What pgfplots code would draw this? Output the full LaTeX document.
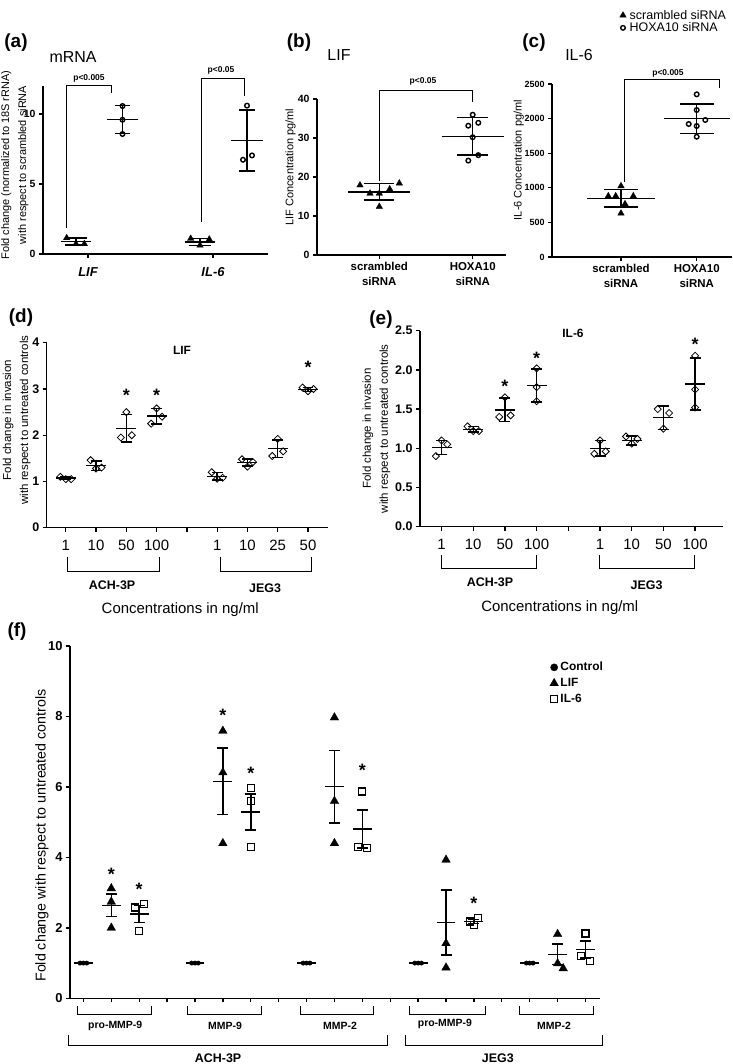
\documentclass[border=0pt]{standalone}
\usepackage{fontspec}
\setmainfont{Liberation Sans}
\usepackage{pgfplots}
\usepackage{pgfplotstable}
\pgfplotsset{compat=1.18}
\pgfplotsset{
  myax/.style={scale only axis, axis lines=left, axis line style={-, line width=1.3pt},
    tick style={black, line width=1.3pt}, tick align=outside, major tick length=4pt,
    clip=false, /pgf/number format/assume math mode=true, /pgf/number format/1000 sep={},
    scaled ticks=false, anchor=south west, minor tick num=0},
  legimg/.style={legend image code/.code={\draw[mark repeat=2,mark phase=2,##1] plot coordinates {(0cm,0cm) (0.14cm,0cm) (0.28cm,0cm)};}},
  scr/.style={only marks, mark=triangle*, mark size=3.8pt, mark options={black, fill=black, line width=0.3pt}, legimg},
  hox/.style={only marks, mark=o, mark size=2.3pt, mark options={black, line width=1.4pt}, legimg},
  dia/.style={only marks, mark=square, mark size=2.5pt, mark options={rotate=45, black, line width=0.8pt}},
  ctrl/.style={only marks, mark=*, mark size=2pt, mark options={black, fill=black}, legimg},
  lif/.style={only marks, mark=triangle*, mark size=5pt, mark options={black, fill=black, line width=0.3pt}, legimg},
  il/.style={only marks, mark=square, mark size=3.5pt, mark options={black, fill=white, line width=1.2pt}, legimg},
}
\tikzset{
  pval/.style={font=\bfseries\fontsize{8.5}{9}\selectfont, inner sep=0pt},
  star/.style={font=\bfseries\fontsize{18}{18}\selectfont, inner sep=0pt, anchor=center, yshift=-3.8pt},
  br/.style={line width=1.0pt},
}
\newcommand{\summ}[3]{\addplot[black, only marks, mark=-, mark size=#2pt, mark options={line width=1.5pt}, forget plot,
  error bars/.cd, y dir=both, y explicit, error bar style={line width=1.5pt, black},
  error mark options={rotate=90, line width=1.5pt, mark size=#3pt, black}] table[x=x, y=m, y error=e] {#1};}

\begin{document}
% ---------- (a)
\pgfplotstableread{
x y
66.7 1.15
76 0.72
84.3 0.72
190.7 1.10
200 0.62
209.3 1.05
}\aScr
\pgfplotstableread{
x y
122.5 10.57
122.5 9.59
122.5 8.57
247 10.6
243 6.73
252 7.04
}\aHox
\pgfplotstableread{
x m e
76 0.90 0.25
200 0.85 0.25
}\aScrS
\pgfplotstableread{
x m e
122.5 9.60 1.00
247 8.12 2.18
}\aHoxS
% ---------- (b)
\pgfplotstableread{
x y
360 17.9
370 15.8
379.3 15.8
389.7 16.9
399.3 18.4
379.3 12.4
}\bScr
\pgfplotstableread{
x y
472.7 35.97
468.3 33.15
478.3 33.9
472.7 30.2
478.3 25.6
468.3 24.2
}\bHox
\pgfplotstableread{
x m e
379.3 16.2 2.15
}\bScrS
\pgfplotstableread{
x m e
472.7 30.4 4.8
}\bHoxS
% ---------- (c)
\pgfplotstableread{
x y
621 1026
608.3 881
615.7 881
633.3 881
625 766
621 631
}\cScr
\pgfplotstableread{
x y
696.7 2351
696.7 2124
688.7 1922
705.3 1980
696.7 1893
696.7 1738
}\cHox
\pgfplotstableread{
x m e
621 848 128
}\cScrS
\pgfplotstableread{
x m e
696.7 2000 212
}\cHoxS
% ---------- (d)
\pgfplotstableread{
x y
-0.18 1.10
0 1.05
0.18 1.05
0.82 1.46
1 1.28
1.18 1.30
2 2.50
1.82 1.95
2.18 2.00
3 2.58
2.82 2.25
3.18 2.40
4.82 1.20
5 1.06
5.18 1.08
5.82 1.48
6 1.32
6.18 1.42
7 1.92
6.82 1.55
7.18 1.65
7.82 3.03
8 2.95
8.18 3.00
}\dPts
\pgfplotstableread{
x m e
0 1.07 0.03
1 1.34 0.10
2 2.15 0.30
3 2.41 0.17
5 1.11 0.08
6 1.41 0.08
7 1.71 0.19
8 2.99 0.04
}\dSum
% ---------- (e)
\pgfplotstableread{
x y
0 1.10
0.18 1.05
-0.18 0.90
0.82 1.28
1 1.22
1.18 1.22
2 1.65
1.82 1.40
2.18 1.42
3 2.02
3 1.78
3 1.60
5 1.10
4.82 0.93
5.18 0.96
5.82 1.15
6.18 1.12
6 1.06
6.82 1.50
7.18 1.45
7 1.25
8 2.18
8 1.75
8 1.52
}\ePts
\pgfplotstableread{
x m e
0 1.01 0.09
1 1.24 0.035
2 1.49 0.15
3 1.80 0.21
5 1.00 0.10
6 1.10 0.06
7 1.39 0.15
8 1.82 0.33
}\eSum
% ---------- (f)
\pgfplotstableread{
x y
-0.12 1
0 1
0.12 1
3.88 1
4 1
4.12 1
7.88 1
8 1
8.12 1
11.88 1
12 1
12.12 1
15.88 1
16 1
16.12 1
}\fCtrl
\pgfplotstableread{
x y
1 3.12
1 2.74
1 2.00
5 7.59
5 6.41
5 4.40
9 7.97
9 5.60
9 4.40
13 3.93
13 1.56
13 0.87
17 1.82
17 0.99
17.2 0.85
}\fLif
\pgfplotstableread{
x m e
1 2.64 0.32
5 6.16 0.945
9 6.01 1.03
13 2.15 0.92
17 1.25 0.29
}\fLifS
\pgfplotstableread{
x y
1.84 2.58
2 1.91
2.16 2.68
6 5.96
6 5.61
6 4.30
10 5.87
9.84 4.30
10.16 4.26
13.85 2.18
14 2.08
14.15 2.27
18 1.84
17.84 1.20
18.16 1.07
}\fIl
\pgfplotstableread{
x m e
2 2.39 0.245
6 5.29 0.51
10 4.80 0.54
14 2.18 0.05
18 1.38 0.24
}\fIlS

\begin{tikzpicture}
\useasboundingbox (0,0) rectangle (733bp,-1064bp);

% ================= (a)
\begin{axis}[myax, at={(43bp,-254bp)}, width=225bp, height=168bp,
  xmin=43, xmax=268, ymin=0, ymax=12,
  xtick={88,213}, xticklabels={LIF,IL-6}, ytick={0,5,10},
  yticklabel style={font=\bfseries\fontsize{10.5}{12}\selectfont},
  xticklabel style={font=\bfseries\itshape\fontsize{13}{15}\selectfont, yshift=-6pt},
  ylabel={Fold change (normalized to 18S rRNA)\\with respect to scrambled siRNA},
  ylabel style={align=center, font=\fontsize{11}{17}\selectfont, at={(axis description cs:-0.125,0.53)}, anchor=center}]
\summ{\aScrS}{15}{11}
\summ{\aHoxS}{16}{8}
\addplot[scr] table {\aScr};
\addplot[hox] table {\aHox};
\draw[br] (axis cs:66,1.86) -- (axis cs:66,12.07) -- (axis cs:111,12.07) -- (axis cs:111,11.5);
\node[pval] at (axis cs:89,12.57) {p<0.005};
\draw[br] (axis cs:201.7,2.3) -- (axis cs:201.7,12.55) -- (axis cs:244,12.55) -- (axis cs:244,11.3);
\node[pval] at (axis cs:221,13.1) {p<0.05};
\end{axis}

% ================= (b)
\begin{axis}[myax, at={(317bp,-255bp)}, width=189bp, height=156bp,
  xmin=317, xmax=506, ymin=0, ymax=40,
  xtick={379.3,472.7}, xticklabels={{scrambled\\siRNA},{HOXA10\\siRNA}}, ytick={0,10,20,30,40},
  yticklabel style={font=\bfseries\fontsize{10.5}{12}\selectfont},
  xticklabel style={align=center, font=\bfseries\fontsize{11.5}{15}\selectfont},
  ylabel={LIF Concentration pg/ml},
  ylabel style={font=\fontsize{11}{13}\selectfont, at={(axis description cs:-0.14,0.564)}, anchor=center}]
\summ{\bScrS}{31}{15}
\summ{\bHoxS}{31}{15.5}
\addplot[scr] table {\bScr};
\addplot[hox] table {\bHox};
\draw[br] (axis cs:379.3,18.9) -- (axis cs:379.3,42.3) -- (axis cs:472.7,42.3) -- (axis cs:472.7,39.2);
\node[pval] at (axis cs:423,44.4) {p<0.05};
\end{axis}

% ================= (c)
\begin{axis}[myax, at={(552bp,-257bp)}, width=180bp, height=173bp,
  xmin=552, xmax=732, ymin=0, ymax=2500,
  xtick={621,696.7}, xticklabels={{scrambled\\siRNA},{HOXA10\\siRNA}},
  ytick={0,500,1000,1500,2000,2500}, yticklabels={0,500,1000,1500,2000,2500},
  yticklabel style={font=\bfseries\fontsize{9}{11}\selectfont},
  xticklabel style={align=center, font=\bfseries\fontsize{11.5}{15}\selectfont},
  ylabel={IL-6 Concentration pg/ml},
  ylabel style={font=\fontsize{11}{13}\selectfont, at={(axis description cs:-0.185,0.56)}, anchor=center},
  legend cell align=left,
  legend style={at={(axis description cs:0.375,1.44)}, anchor=north west, draw=none, fill=none,
    font=\fontsize{12.5}{13}\selectfont, row sep=-2pt, inner sep=0pt, nodes={inner xsep=3.5pt}}]
\summ{\cScrS}{34}{17.5}
\summ{\cHoxS}{33}{17}
\addplot[scr] table {\cScr};
\addlegendentry{scrambled siRNA}
\addplot[hox] table {\cHox};
\addlegendentry{HOXA10 siRNA}
\draw[br] (axis cs:624.3,1080) -- (axis cs:624.3,2558) -- (axis cs:719,2558) -- (axis cs:719,2438);
\node[pval] at (axis cs:668,2654) {p<0.005};
\end{axis}

% ================= (d)
\begin{axis}[myax, at={(46.7bp,-527.7bp)}, width=281.6bp, height=185bp,
  xmin=-0.63, xmax=8.67, ymin=0, ymax=4,
  xtick={0,...,8}, xticklabels={1,10,50,100,{},1,10,25,50}, ytick={0,1,2,3,4},
  yticklabel style={font=\bfseries\fontsize{12.5}{14}\selectfont},
  xticklabel style={font=\fontsize{15}{17}\selectfont, yshift=-5pt},
  ylabel={Fold change in invasion\\with respect to untreated controls},
  ylabel style={align=center, font=\fontsize{11.5}{17}\selectfont, at={(axis description cs:-0.107,0.582)}, anchor=center}]
\summ{\dSum}{10}{5.5}
\addplot[dia] table {\dPts};
\node[star] at (axis cs:2,2.95) {*};
\node[star] at (axis cs:3,2.95) {*};
\node[star] at (axis cs:8,3.55) {*};
\draw[br] (axis cs:0.05,-0.627) -- (axis cs:0.05,-0.951) -- (axis cs:3.1,-0.951) -- (axis cs:3.1,-0.627);
\draw[br] (axis cs:5.1,-0.627) -- (axis cs:5.1,-0.951) -- (axis cs:8.1,-0.951) -- (axis cs:8.1,-0.627);
\node[font=\bfseries\fontsize{12.5}{14}\selectfont] at (axis cs:1.53,-1.24) {ACH-3P};
\node[font=\bfseries\fontsize{12.5}{14}\selectfont] at (axis cs:6.58,-1.30) {JEG3};
\node[font=\fontsize{15}{17}\selectfont] at (axis cs:3.78,-1.78) {Concentrations in ng/ml};
\end{axis}

% ================= (e)
\begin{axis}[myax, at={(420bp,-526.7bp)}, width=303bp, height=196bp,
  xmin=-0.68, xmax=8.88, ymin=0, ymax=2.5,
  xtick={0,...,8}, xticklabels={1,10,50,100,{},1,10,50,100},
  ytick={0,0.5,1,1.5,2,2.5}, yticklabels={0.0,0.5,1.0,1.5,2.0,2.5},
  yticklabel style={font=\bfseries\fontsize{12.5}{14}\selectfont},
  xticklabel style={font=\fontsize{15}{17}\selectfont, yshift=-5pt},
  ylabel={Fold change in invasion\\with respect to untreated controls},
  ylabel style={align=center, font=\fontsize{11.5}{17}\selectfont, at={(axis description cs:-0.1436,0.50)}, anchor=center}]
\summ{\eSum}{10}{5.5}
\addplot[dia] table {\ePts};
\node[star] at (axis cs:2,1.84) {*};
\node[star] at (axis cs:3,2.19) {*};
\node[star] at (axis cs:8,2.38) {*};
\draw[br] (axis cs:0,-0.361) -- (axis cs:0,-0.531) -- (axis cs:3,-0.531) -- (axis cs:3,-0.361);
\draw[br] (axis cs:4.97,-0.361) -- (axis cs:4.97,-0.531) -- (axis cs:7.99,-0.531) -- (axis cs:7.99,-0.361);
\node[font=\bfseries\fontsize{12.5}{14}\selectfont] at (axis cs:1.53,-0.705) {ACH-3P};
\node[font=\bfseries\fontsize{12.5}{14}\selectfont] at (axis cs:6.47,-0.744) {JEG3};
\node[font=\fontsize{15}{17}\selectfont] at (axis cs:3.73,-1.037) {Concentrations in ng/ml};
\end{axis}

% ================= (f)
\begin{axis}[myax, at={(70bp,-998.3bp)}, width=530bp, height=352.3bp,
  xmin=-0.48, xmax=18.52, ymin=0, ymax=10,
  xtick={0,...,18}, xticklabels={}, ytick={0,2,4,6,8,10},
  yticklabel style={font=\bfseries\fontsize{13}{15}\selectfont},
  ylabel={Fold change with respect to untreated controls},
  ylabel style={font=\fontsize{14.3}{16}\selectfont, at={(axis description cs:-0.053,0.462)}, anchor=center},
  legend cell align=left,
  legend style={at={(axis description cs:0.905,0.96)}, anchor=north west, draw=none, fill=none,
    font=\bfseries\fontsize{12}{13}\selectfont, row sep=2pt, inner sep=0pt, nodes={inner xsep=2pt}}]
\addplot[black, only marks, mark=-, mark size=9.5pt, mark options={line width=1.5pt}, forget plot] coordinates {(0,1) (4,1) (8,1) (12,1) (16,1)};
\summ{\fLifS}{9.5}{5.5}
\summ{\fIlS}{9.5}{5.5}
\addplot[ctrl, mark size=2.2pt, legend image post style={mark size=3.6pt}] table {\fCtrl};
\addlegendentry{Control}
\addplot[lif] table {\fLif};
\addlegendentry{LIF}
\addplot[il] table {\fIl};
\addlegendentry{IL-6}
\node[star] at (axis cs:1,3.62) {*};
\node[star] at (axis cs:2,3.19) {*};
\node[star] at (axis cs:5,8.14) {*};
\node[star] at (axis cs:6,6.48) {*};
\node[star] at (axis cs:10,6.58) {*};
\node[star] at (axis cs:14,2.81) {*};
\draw[br] (axis cs:-0.2,-0.219) -- (axis cs:-0.2,-0.454) -- (axis cs:2.45,-0.454) -- (axis cs:2.45,-0.219);
\draw[br] (axis cs:3.75,-0.219) -- (axis cs:3.75,-0.454) -- (axis cs:6.4,-0.454) -- (axis cs:6.4,-0.219);
\draw[br] (axis cs:7.8,-0.219) -- (axis cs:7.8,-0.454) -- (axis cs:10.4,-0.454) -- (axis cs:10.4,-0.219);
\draw[br] (axis cs:11.7,-0.219) -- (axis cs:11.7,-0.454) -- (axis cs:14.4,-0.454) -- (axis cs:14.4,-0.219);
\draw[br] (axis cs:15.65,-0.219) -- (axis cs:15.65,-0.454) -- (axis cs:18.27,-0.454) -- (axis cs:18.27,-0.219);
\node[font=\bfseries\fontsize{10.5}{12}\selectfont] at (axis cs:1.14,-0.79) {pro-MMP-9};
\node[font=\bfseries\fontsize{10.5}{12}\selectfont] at (axis cs:5.08,-0.79) {MMP-9};
\node[font=\bfseries\fontsize{10.5}{12}\selectfont] at (axis cs:9.2,-0.79) {MMP-2};
\node[font=\bfseries\fontsize{10.5}{12}\selectfont] at (axis cs:12.96,-0.74) {pro-MMP-9};
\node[font=\bfseries\fontsize{10.5}{12}\selectfont] at (axis cs:16.87,-0.77) {MMP-2};
\draw[br] (axis cs:-0.54,-1.04) -- (axis cs:-0.54,-1.33) -- (axis cs:10.9,-1.33) -- (axis cs:10.9,-1.04);
\draw[br] (axis cs:11.56,-1.04) -- (axis cs:11.56,-1.33) -- (axis cs:18.6,-1.33) -- (axis cs:18.6,-1.04);
\node[font=\bfseries\fontsize{12.5}{14}\selectfont] at (axis cs:4.83,-1.69) {ACH-3P};
\node[font=\bfseries\fontsize{12.5}{14}\selectfont] at (axis cs:14.86,-1.69) {JEG3};
\end{axis}

% ================= panel letters and titles
\node[font=\bfseries\fontsize{19}{19}\selectfont] at (16bp,-43bp) {(a)};
\node[font=\fontsize{16}{16}\selectfont] at (73bp,-57bp) {mRNA};
\node[font=\bfseries\fontsize{19}{19}\selectfont] at (299bp,-43bp) {(b)};
\node[font=\fontsize{16}{16}\selectfont] at (339bp,-55bp) {LIF};
\node[font=\bfseries\fontsize{19}{19}\selectfont] at (534bp,-43bp) {(c)};
\node[font=\fontsize{16}{16}\selectfont] at (579bp,-55bp) {IL-6};
\node[font=\bfseries\fontsize{19}{19}\selectfont] at (21bp,-318bp) {(d)};
\node[font=\bfseries\fontsize{12}{13}\selectfont] at (182bp,-350bp) {LIF};
\node[font=\bfseries\fontsize{19}{19}\selectfont] at (381bp,-320bp) {(e)};
\node[font=\bfseries\fontsize{12}{13}\selectfont] at (573bp,-333bp) {IL-6};
\node[font=\bfseries\fontsize{19}{19}\selectfont] at (17bp,-632bp) {(f)};
\end{tikzpicture}
\end{document}
